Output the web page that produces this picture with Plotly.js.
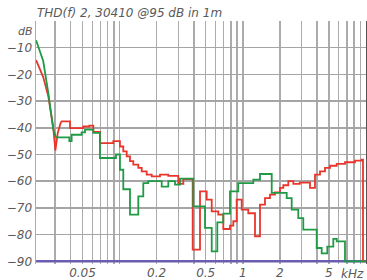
<!DOCTYPE html>
<html>
<head>
<meta charset="utf-8">
<script src="https://cdn.plot.ly/plotly-3.0.1.min.js"></script>
<style>html,body{margin:0;padding:0;background:#fff;}#chart{width:367px;height:280px;}</style>
</head>
<body>
<div id="chart"></div>
<script>
// ---- data (frequency in Hz, level in dB) ----
const greenHeadHz = [21, 24, 26.4, 29, 30.5];
const greenHeadDb = [-7.2, -15, -27, -40.7, -43.6];
const greenStepHz = [30.5, 39.1, 40.8, 49.2, 52.4, 61.2, 69.3, 93.5, 100.7, 107.2, 121.5, 141.9, 155.7, 171, 219.7, 248.6, 281.7, 309.3, 396.6, 493.5, 559.5, 621, 694.7, 787.4, 919, 1217, 1379, 1717, 2272, 2494, 2822, 3097, 3980, 4369, 4852, 5428, 5783, 6753, 10000];
const greenStepDb = [-43.6, -45, -42.6, -41.7, -40.7, -41.9, -51.3, -50, -55.7, -63, -72.5, -65.7, -60.7, -60, -62, -60, -61.3, -59, -69.4, -77.5, -86.3, -75.4, -72.1, -63.8, -60.7, -59.4, -57.3, -64.4, -66.3, -70.6, -73.8, -78.1, -85, -87, -84.5, -81.6, -82.5, -90, -90];

const redHeadHz = [21, 24, 26.4, 29, 30.1, 31.5, 33.5];
const redHeadDb = [-14.6, -21, -28.2, -40.3, -48.5, -41.9, -37.6];
const redStepHz = [33.5, 39.6, 50.7, 56.8, 61.2, 69.3, 88.9, 100.7, 107.2, 114.2, 121.5, 129.2, 141.9, 151.2, 166, 182.3, 212.8, 248.6, 299.5, 329, 392, 449.5, 509.3, 559.5, 632.6, 694.7, 787.4, 837.5, 892, 979.7, 1108, 1256, 1379, 1514, 1663, 1826, 2004, 2132, 2341, 2570, 2900, 3512, 3855, 4233, 4648, 5104, 5783, 6753, 8141, 9227, 9455, 10000];
const redStepDb = [-37.6, -40.1, -39.5, -39.2, -41.5, -45.7, -45, -47, -48.8, -50.7, -52.5, -53.8, -55, -56.3, -57.5, -58.2, -57.5, -58, -61, -59.2, -85.6, -63.8, -66.9, -71.3, -72.5, -77.9, -76.6, -75, -66.9, -70.6, -72, -80.6, -68.8, -66.3, -65, -64.2, -62.5, -61.5, -60, -61, -60.5, -62.5, -57.5, -56.3, -55, -54.2, -53.5, -52.9, -52.3, -51.9, -90, -90];

const floorHz = [21, 10000];
const floorDb = [-90, -90];

const xTickVals = [0.05, 0.2, 0.5, 1, 2, 5];
const xTickText = ['0.05', '0.2', '0.5', '1', '2', '5'];
const xMinorVals = [0.03, 0.04, 0.06, 0.07, 0.08, 0.09, 0.1, 0.3, 0.4, 0.6, 0.7, 0.8, 0.9, 3, 4, 6, 7, 8, 9];
const yTickVals = [-90, -80, -70, -60, -50, -40, -30, -20, -10, 0];
const yTickText = ['−90', '−80', '−70', '−60', '−50', '−40', '−30', '−20', '−10', ''];
const titleText = 'THD(f) 2, 30410 @95 dB in 1m';

// ---- drawing ----
const kHz = a => a.map(v => v / 1000);
const RED = '#e8362c', GREEN = '#1f9a45', PURPLE = '#6a5cb0';
const labFont = {family: 'DejaVu Sans', size: 12, style: 'italic', color: '#5a5a5a'};

const traces = [
  {x: kHz(floorHz), y: floorDb, mode: 'lines', line: {color: PURPLE, width: 2.5}, hoverinfo: 'skip'},
  {x: kHz(redHeadHz), y: redHeadDb, mode: 'lines', line: {color: RED, width: 1.8}},
  {x: kHz(redStepHz), y: redStepDb, mode: 'lines', line: {color: RED, width: 1.8, shape: 'hv'}},
  {x: kHz(greenHeadHz), y: greenHeadDb, mode: 'lines', line: {color: GREEN, width: 1.8}},
  {x: kHz(greenStepHz), y: greenStepDb, mode: 'lines', line: {color: GREEN, width: 1.8, shape: 'hv'}},
  {x: [0.05], y: [-50], yaxis: 'y2', mode: 'lines', opacity: 0, hoverinfo: 'skip'}
];

const layout = {
  width: 367, height: 280,
  margin: {l: 36, r: 1, t: 21, b: 16},
  paper_bgcolor: '#fff', plot_bgcolor: '#fff',
  showlegend: false,
  title: {text: titleText, x: 37/367, xanchor: 'left', y: 1 - 13/280, yanchor: 'middle', font: labFont},
  xaxis: {
    type: 'log', range: [Math.log10(0.02097), 1],
    tickmode: 'array', tickvals: xTickVals, ticktext: xTickText,
    ticks: '', showgrid: true, gridcolor: '#ababab', gridwidth: 1.5,
    minor: {tickmode: 'array', tickvals: xMinorVals, showgrid: true, gridcolor: '#ababab', gridwidth: 1.5, ticks: ''},
    zeroline: false, showline: false, tickfont: labFont, fixedrange: true
  },
  yaxis: {
    range: [-91, 0], tickmode: 'array', tickvals: yTickVals, ticktext: yTickText,
    ticks: '', showgrid: true, gridcolor: '#a5a5a5', gridwidth: 1.5,
    zeroline: false, showline: true, linecolor: '#ababab', linewidth: 1.5,
    tickfont: labFont, fixedrange: true
  },
  yaxis2: {
    range: [-91, 0], overlaying: 'y', side: 'right', showgrid: false, zeroline: false,
    showticklabels: false, ticks: '', showline: true, linecolor: '#555', linewidth: 2
  },
  annotations: [
    {text: 'dB', xref: 'paper', yref: 'paper', x: 0, y: (262 - 29) / 243, xanchor: 'right', yanchor: 'middle', xshift: -1, showarrow: false, font: {family: 'DejaVu Sans', size: 11, style: 'italic', color: '#5a5a5a'}},
    {text: 'kHz', xref: 'paper', yref: 'paper', x: 1, y: 0, xanchor: 'right', yanchor: 'top', yshift: -1, showarrow: false, font: labFont}
  ]
};

Plotly.newPlot('chart', traces, layout, {staticPlot: true, displayModeBar: false});
</script>
</body>
</html>
